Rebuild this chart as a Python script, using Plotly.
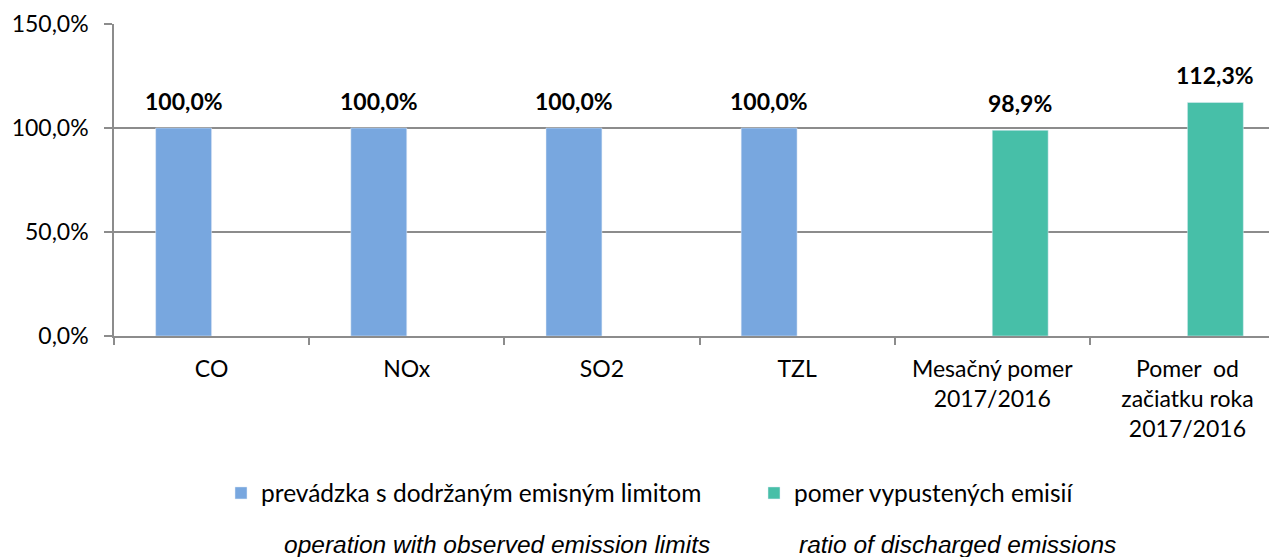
import plotly.graph_objects as go

categories = ["CO", "NOx", "SO2", "TZL", "Mesačný pomer<br>2017/2016", "Pomer  od<br>začiatku roka<br>2017/2016"]
series_names = ["prevádzka s dodržaným emisným limitom", "pomer vypustených emisií"]
series_names_en = ["operation with observed emission limits", "ratio of discharged emissions"]
limits_values = [1.0, 1.0, 1.0, 1.0, None, None]
ratio_values = [None, None, None, None, 0.989, 1.123]
y_ticks = [0, 0.5, 1.0, 1.5]

BLUE = "#78A7DF"
GREEN = "#47BFA8"
GRID = "#8C8C8C"
FONT = "Lato"
FS = 23

# page body has an 8px offset; screen coords of the plot area
OFF = 8
plot_left, plot_top, plot_bottom = 114, 24, 336
plot_w = 1171
ph = plot_bottom - plot_top

fig = go.Figure()
fig.add_trace(go.Bar(x=categories, y=limits_values, name=series_names[0], marker_color=BLUE, legend="legend"))
fig.add_trace(go.Bar(x=categories, y=ratio_values, name=series_names[1], marker_color=GREEN, legend="legend2"))

def fmt(v):
    return f"{v*100:.1f}%".replace(".", ",")

annotations = []
for vals, shift in ((limits_values, -28), (ratio_values, 28)):
    for c, v in zip(categories, vals):
        if v is None:
            continue
        annotations.append(dict(x=c, y=v, xref="x", yref="y", text="<b>" + fmt(v) + "</b>",
                                 showarrow=False, xshift=shift, yshift=27, yanchor="middle",
                                 font=dict(family=FONT, size=FS, color="#000")))

for txt, px in zip(series_names_en, (282, 797)):
    annotations.append(dict(x=(px - plot_left) / plot_w, y=(plot_bottom - 544) / ph, xref="paper", yref="paper",
                            text="<i>" + txt + "</i>", showarrow=False, xanchor="left", yanchor="middle",
                            font=dict(family="Liberation Sans", size=24.5, color="#000")))

def leg(px):
    return dict(orientation="h", x=(px - plot_left) / plot_w, xanchor="left",
                y=(plot_bottom - 493) / ph, yanchor="middle",
                font=dict(family=FONT, size=24.5, color="#000"),
                itemwidth=30, bgcolor="rgba(0,0,0,0)")

fig.update_layout(
    width=1277, height=557,
    margin=dict(l=plot_left - OFF, r=0, t=plot_top - OFF, b=557 - (plot_bottom - OFF)),
    paper_bgcolor="white", plot_bgcolor="white",
    barmode="group", bargap=0.427, bargroupgap=0,
    separators=", ",
    font=dict(family=FONT, size=FS, color="#000"),
    showlegend=True,
    legend=leg(221),
    legend2=leg(754),
    annotations=annotations,
)
fig.update_xaxes(type="category", range=[-0.5, 5.5], showline=True, linecolor=GRID, linewidth=1.5,
                 ticks="outside", tickson="boundaries", ticklen=7, tickcolor=GRID, tickwidth=1.5,
                 showgrid=False, tickfont=dict(family=FONT, size=FS, color="#000"), tickangle=0,
                 ticklabelstandoff=12, automargin=False)
fig.update_yaxes(range=[0, 1.5], tickvals=y_ticks, tickformat=".1%", showgrid=True, gridcolor=GRID,
                 gridwidth=1.5, showline=True, linecolor=GRID, linewidth=1.5, ticks="outside",
                 ticklen=8, tickcolor=GRID, tickwidth=1.5, zeroline=False, ticklabelstandoff=11,
                 tickfont=dict(family=FONT, size=FS, color="#000"), automargin=False)

fig.write_html("out.html")
